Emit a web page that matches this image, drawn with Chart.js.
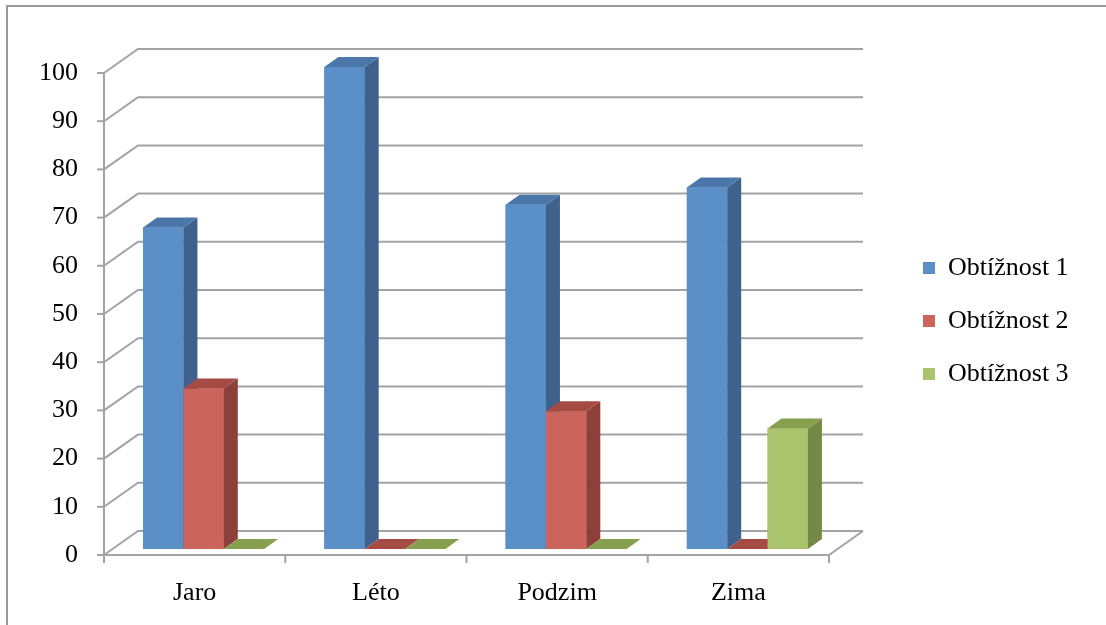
<!DOCTYPE html>
<html>
<head>
<meta charset="utf-8">
<script src="https://cdn.jsdelivr.net/npm/chart.js@4.4.1/dist/chart.umd.min.js"></script>
<style>
  html, body { margin: 0; padding: 0; background: #fff; }
  #wrap { width: 1106px; height: 625px; position: relative; }
</style>
</head>
<body>
<div id="wrap"><canvas id="barChart"></canvas></div>
<script>
var categories = ["Jaro", "Léto", "Podzim", "Zima"];
var seriesNames = ["Obtížnost 1", "Obtížnost 2", "Obtížnost 3"];
var obtiznost1 = [66.7, 100, 71.4, 75];
var obtiznost2 = [33.3, 0, 28.6, 0];
var obtiznost3 = [0, 0, 0, 25];
var yTicks = [0, 10, 20, 30, 40, 50, 60, 70, 80, 90, 100];

var frontColors = ["#5b8fc7", "#cb655b", "#a9c46d"];
var sideColors = ["#3f628d", "#8c4039", "#758945"];
var topColors = ["#4a76aa", "#a64b44", "#86a04e"];

var FONT = "'Liberation Serif', serif";
var FSIZE = 26;
var GRID = "#a3a3a3";
// offsets of the 3d planes relative to the bars' front faces
var FRONT = { dx: -9, dy: 6 };
var BACK = { dx: 25, dy: -18 };
var DEPTH = { dx: 14, dy: -10 };

function line(ctx, pts) {
    ctx.beginPath();
    ctx.moveTo(pts[0][0], pts[0][1]);
    for (var i = 1; i < pts.length; i++) ctx.lineTo(pts[i][0], pts[i][1]);
    ctx.stroke();
}

function poly(ctx, pts, color) {
    ctx.beginPath();
    ctx.moveTo(pts[0][0], pts[0][1]);
    for (var i = 1; i < pts.length; i++) ctx.lineTo(pts[i][0], pts[i][1]);
    ctx.closePath();
    ctx.fillStyle = color;
    ctx.fill();
}

var box3d = {
    id: "box3d",
    beforeLayout: function (chart) {
        var legend = chart.legend;
        if (legend && !legend._fixed) {
            var fit = legend.fit;
            legend.fit = function () { fit.call(this); this.width = 268; };
            legend._fixed = true;
        }
    },
    afterLayout: function (chart) {
        var legend = chart.legend;
        legend.left = 896;
        legend.right = 1106;
        legend.top = 228;
        legend.bottom = 625;
    },
    beforeDraw: function (chart) {
        var ctx = chart.ctx;
        ctx.save();
        ctx.strokeStyle = "#9a9a9a";
        ctx.lineWidth = 2;
        line(ctx, [[7, 625], [7, 6], [1106, 6]]);
        ctx.restore();
    },
    beforeDatasetsDraw: function (chart) {
        var ctx = chart.ctx, xs = chart.scales.x, ys = chart.scales.y;
        var fx0 = xs.left + FRONT.dx, fx1 = xs.right + FRONT.dx;
        var bx0 = xs.left + BACK.dx, bx1 = xs.right + BACK.dx;
        ctx.save();
        ctx.strokeStyle = GRID;
        ctx.lineWidth = 2;
        yTicks.forEach(function (v) {
            var p = ys.getPixelForValue(v);
            line(ctx, [[fx0, p + FRONT.dy], [bx0, p + BACK.dy], [bx1, p + BACK.dy]]);
            line(ctx, [[fx0 - 7, p + FRONT.dy], [fx0, p + FRONT.dy]]);
        });
        var p0 = ys.getPixelForValue(0);
        var pTop = ys.getPixelForValue(yTicks[yTicks.length - 1]);
        line(ctx, [[fx0, p0 + FRONT.dy], [fx1, p0 + FRONT.dy], [bx1, p0 + BACK.dy]]);
        line(ctx, [[fx0, pTop + FRONT.dy], [fx0, p0 + FRONT.dy + 8]]);
        var step = xs.width / categories.length;
        for (var i = 0; i <= categories.length; i++) {
            var x = xs.left + i * step + FRONT.dx;
            line(ctx, [[x, p0 + FRONT.dy], [x, p0 + FRONT.dy + 8]]);
        }
        ctx.restore();
    },
    // redraw every bar as a box, category by category, so nearer faces cover the ones behind
    afterDatasetsDraw: function (chart) {
        var ctx = chart.ctx;
        ctx.save();
        categories.forEach(function (c, j) {
            seriesNames.forEach(function (s, k) {
                var el = chart.getDatasetMeta(k).data[j];
                var p = el.getProps(["x", "y", "base", "width"], true);
                var l = p.x - p.width / 2, r = p.x + p.width / 2;
                var t = Math.min(p.y, p.base), b = p.base;
                if (b - t > 0.5) {
                    poly(ctx, [[l, t], [r, t], [r, b], [l, b]], frontColors[k]);
                    poly(ctx, [[r, t], [r + DEPTH.dx, t + DEPTH.dy], [r + DEPTH.dx, b + DEPTH.dy], [r, b]], sideColors[k]);
                }
                poly(ctx, [[l, t], [l + DEPTH.dx, t + DEPTH.dy], [r + DEPTH.dx, t + DEPTH.dy], [r, t]], topColors[k]);
            });
        });
        ctx.restore();
    }
};

var seriesValues = [obtiznost1, obtiznost2, obtiznost3];
var datasets = seriesValues.map(function (vals, i) {
    return {
        label: seriesNames[i],
        data: vals,
        backgroundColor: frontColors[i],
        borderWidth: 0,
        categoryPercentage: 0.668,
        barPercentage: 1.0
    };
});

var ctx = document.getElementById("barChart").getContext("2d");
var chart = new Chart(ctx, {
    type: "bar",
    data: { labels: categories, datasets: datasets },
    options: {
        responsive: true,
        maintainAspectRatio: false,
        animation: false,
        layout: { padding: { top: 67, left: 0, right: 0, bottom: 0 } },
        plugins: {
            tooltip: { enabled: false },
            legend: {
                position: "right",
                align: "start",
                labels: {
                    boxWidth: 12,
                    boxHeight: 12,
                    padding: 27,
                    color: "#000",
                    font: { family: FONT, size: FSIZE }
                }
            }
        },
        scales: {
            x: {
                grid: { display: false, drawTicks: false },
                border: { display: false },
                ticks: { color: "#000", font: { family: FONT, size: FSIZE }, padding: 29, labelOffset: -9, maxRotation: 0 },
                afterFit: function (s) { s.height = 76; }
            },
            y: {
                min: 0,
                max: 100,
                grid: { display: false, drawTicks: false },
                border: { display: false },
                ticks: { color: "#000", font: { family: FONT, size: FSIZE }, padding: 35, labelOffset: 6, stepSize: 10 },
                afterBuildTicks: function (s) { s.ticks = yTicks.map(function (v) { return { value: v }; }); },
                afterFit: function (s) { s.width = 113; }
            }
        }
    },
    plugins: [box3d]
});
</script>
</body>
</html>
